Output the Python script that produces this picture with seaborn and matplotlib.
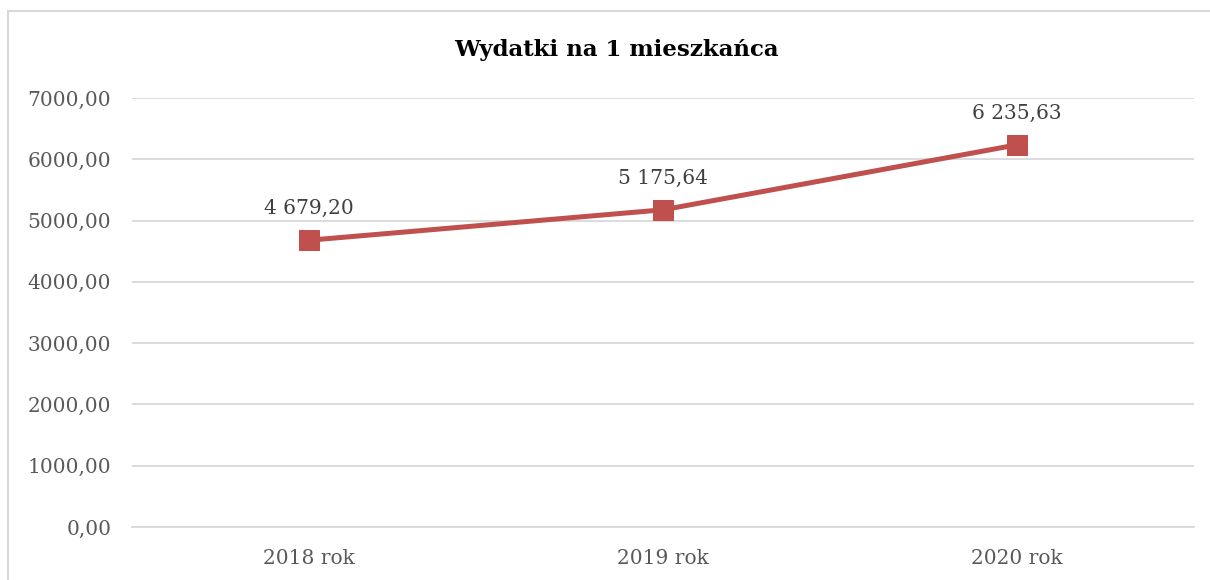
import matplotlib
matplotlib.use("Agg")
import matplotlib.pyplot as plt
import matplotlib.patches as patches
import seaborn as sns
import pandas as pd

# data
years = ["2018 rok", "2019 rok", "2020 rok"]
values = [4679.20, 5175.64, 6235.63]
value_labels = ["4 679,20", "5 175,64", "6 235,63"]
y_ticks = [0, 1000, 2000, 3000, 4000, 5000, 6000, 7000]

df = pd.DataFrame({"rok": years, "wartosc": values})

sns.set_theme(style="white")
plt.rcParams["font.family"] = ["DejaVu Serif"]

fig = plt.figure(figsize=(12.1, 5.8), dpi=100)
ax = fig.add_axes([132 / 1210, 1 - 527 / 580, (1194 - 132) / 1210, (527 - 98) / 580])

line_color = "#C0504D"
sns.lineplot(data=df, x="rok", y="wartosc", ax=ax, color=line_color, linewidth=3.6,
             marker="s", markersize=14, markeredgecolor=line_color, sort=False)

for x, v, lab in zip(range(len(years)), values, value_labels):
    ax.annotate(lab, (x, v), xytext=(0, 16), textcoords="offset points",
                ha="center", va="bottom", fontsize=14.5, color="#404040")

ax.set_xlim(-0.5, len(years) - 0.5)
ax.set_ylim(0, 7000)
ax.set_yticks(y_ticks)
ax.set_yticklabels([f"{t:.2f}".replace(".", ",") for t in y_ticks])
ax.grid(axis="y", color="#D9D9D9", linewidth=1.3)
ax.set_axisbelow(True)
for s in ax.spines.values():
    s.set_visible(False)
ax.spines["bottom"].set_visible(True)
ax.spines["bottom"].set_color("#D9D9D9")
ax.spines["bottom"].set_linewidth(1.3)
ax.tick_params(axis="both", labelsize=14.5, labelcolor="#595959", length=0)
ax.tick_params(axis="y", pad=15)
ax.tick_params(axis="x", pad=16)
ax.set_xlabel("")
ax.set_ylabel("")

fig.text(616 / 1210, 1 - 50 / 580, "Wydatki na 1 mieszkańca", ha="center", va="center",
         fontsize=16.5, fontweight="bold", color="black")

# chart border
fig.patches.append(patches.Rectangle((8 / 1210, -0.05), 1.2, 1 - 11 / 580 + 0.05,
                                     transform=fig.transFigure, fill=False,
                                     edgecolor="#D9D9D9", linewidth=1.5))

fig.savefig("out.png", dpi=100)
